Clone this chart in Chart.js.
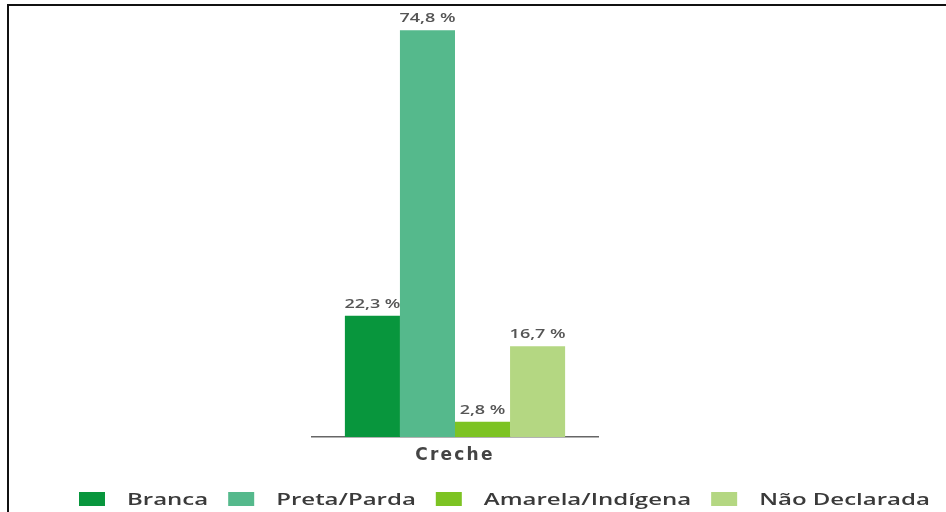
<!DOCTYPE html>
<html><head><meta charset="utf-8">
<script src="https://cdn.jsdelivr.net/npm/chart.js@4.4.0/dist/chart.umd.min.js"></script>
<style>html,body{margin:0;padding:0;background:#fff;overflow:hidden}#wrap{width:946px;height:512px;position:relative}canvas{display:block}</style>
</head><body><div id="wrap"><canvas id="c" width="946" height="512"></canvas></div>
<script>
const categories = ['Creche'];
const seriesNames = ['Branca', 'Preta/Parda', 'Amarela/Indígena', 'Não Declarada'];
const seriesValues = [[22.3], [74.8], [2.8], [16.7]];
const valueLabels = [['22,3 %'], ['74,8 %'], ['2,8 %'], ['16,7 %']];
const seriesColors = ['#08963d', '#55b98c', '#7dc323', '#b4d782'];

const datasets = seriesNames.map((name, i) => ({
  label: name,
  data: seriesValues[i],
  valueText: valueLabels[i],
  backgroundColor: seriesColors[i],
  borderWidth: 0
}));

function setSpacing(ctx, v) { if ('letterSpacing' in ctx) ctx.letterSpacing = v; }
function stretchText(ctx, text, x, y, sx, align) {
  ctx.save();
  ctx.translate(x, y);
  ctx.scale(sx, 1);
  ctx.textAlign = align;
  ctx.fillText(text, 0, 0);
  ctx.restore();
}

const framePlugin = {
  id: 'frame',
  beforeDraw(chart) {
    const ctx = chart.ctx;
    ctx.save();
    ctx.fillStyle = '#fff';
    ctx.fillRect(0, 0, chart.width, chart.height);
    ctx.fillStyle = '#111';
    ctx.fillRect(7, 4, chart.width - 7, 2);
    ctx.fillRect(7, 4, 2, chart.height - 4);
    ctx.restore();
    setSpacing(ctx, '2.2px');
  },
  afterDatasetsDraw(chart) {
    const ctx = chart.ctx;
    ctx.save();
    setSpacing(ctx, '0px');
    ctx.font = '600 12px "Open Sans"';
    ctx.fillStyle = '#555';
    ctx.textBaseline = 'alphabetic';
    chart.data.datasets.forEach((ds, i) => {
      const meta = chart.getDatasetMeta(i);
      meta.data.forEach((el, j) => {
        stretchText(ctx, ds.valueText[j], el.x, el.y - 8, 1.5, 'center');
      });
    });
    ctx.restore();
  },
  afterDraw(chart) {
    const ctx = chart.ctx;
    setSpacing(ctx, '0px');
    ctx.save();
    ctx.font = '600 16px "Open Sans"';
    ctx.textBaseline = 'middle';
    const sx = 1.5;
    let x = 79;
    const yc = 499;
    chart.data.datasets.forEach((ds) => {
      ctx.fillStyle = ds.backgroundColor;
      ctx.fillRect(x, yc - 7, 26, 14);
      ctx.fillStyle = '#3a3a3a';
      stretchText(ctx, ds.label, x + 48, yc + 1, sx, 'left');
      const w = ctx.measureText(ds.label).width * sx;
      x += 48 + w + 20;
    });
    ctx.restore();
  }
};

new Chart(document.getElementById('c'), {
  type: 'bar',
  data: { labels: categories, datasets },
  plugins: [framePlugin],
  options: {
    responsive: false,
    animation: false,
    devicePixelRatio: 1,
    layout: { padding: { left: 312, right: 348, top: 2, bottom: 35 } },
    plugins: { legend: { display: false }, tooltip: { enabled: false } },
    datasets: { bar: { categoryPercentage: 0.77, barPercentage: 1.0 } },
    scales: {
      x: {
        grid: { display: false, drawTicks: false },
        border: { display: true, color: '#666', width: 1.5 },
        ticks: { color: '#444', padding: 8, font: { family: 'DejaVu Sans', size: 17, weight: 'bold' } },
        afterFit(scale) { scale.height = 40; }
      },
      y: { display: false, min: 0, max: 80 }
    }
  }
});
</script></body></html>
